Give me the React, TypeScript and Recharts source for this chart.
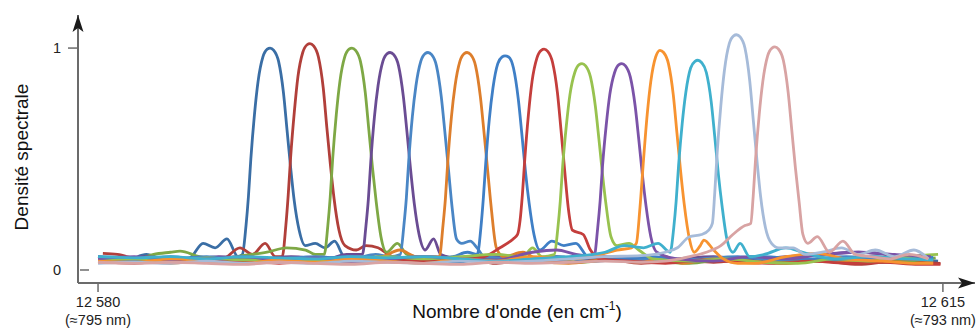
import { Line, LineChart, ReferenceDot, XAxis, YAxis } from "recharts";

// spectral density, [wavenumber (cm-1), value]
const s1 = [[12580.0,0.05],[12581.2,0.045],[12582.0,0.07],[12582.8,0.045],[12583.8,0.055],[12584.35,0.12],[12584.85,0.10],[12585.34,0.14],[12585.8,0.06],[12585.98,0.07],[12586.13,0.2],[12586.23,0.33],[12586.33,0.5],[12586.48,0.7],[12586.63,0.85],[12586.83,0.96],[12587.01,0.995],[12587.13,1.0],[12587.28,0.99],[12587.48,0.94],[12587.68,0.8],[12587.83,0.63],[12587.98,0.46],[12588.13,0.31],[12588.33,0.18],[12588.58,0.11],[12589.0,0.12],[12589.4,0.10],[12589.8,0.13],[12590.2,0.06],[12591.5,0.04],[12593.0,0.05],[12594.5,0.03],[12596.0,0.05],[12597.5,0.04],[12599.0,0.06],[12600.5,0.04],[12602.0,0.05],[12603.5,0.035],[12605.0,0.05],[12606.5,0.04],[12608.0,0.055],[12609.5,0.04],[12611.0,0.05],[12612.5,0.035],[12614.0,0.045],[12614.8,0.04]];
const s2 = [[12580.2,0.075],[12580.8,0.07],[12581.6,0.05],[12582.6,0.04],[12583.6,0.05],[12584.6,0.04],[12585.2,0.05],[12585.88,0.10],[12586.4,0.07],[12586.92,0.12],[12587.35,0.06],[12587.63,0.06],[12587.78,0.2],[12587.88,0.34],[12587.98,0.51],[12588.13,0.71],[12588.28,0.87],[12588.48,0.98],[12588.66,1.015],[12588.78,1.02],[12588.93,1.01],[12589.13,0.96],[12589.33,0.82],[12589.48,0.64],[12589.63,0.47],[12589.78,0.32],[12589.98,0.18],[12590.23,0.11],[12590.7,0.09],[12591.1,0.11],[12591.6,0.10],[12592.2,0.06],[12593.5,0.04],[12595.0,0.055],[12596.5,0.03],[12598.0,0.05],[12599.5,0.035],[12601.0,0.05],[12602.5,0.03],[12604.0,0.045],[12605.5,0.035],[12607.0,0.05],[12608.5,0.03],[12610.0,0.04],[12611.5,0.025],[12613.0,0.04],[12614.9,0.03]];
const s3 = [[12580.0,0.04],[12581.5,0.045],[12582.3,0.07],[12583.0,0.08],[12583.4,0.085],[12584.2,0.06],[12585.0,0.05],[12586.0,0.065],[12587.0,0.08],[12587.8,0.10],[12588.6,0.09],[12589.0,0.07],[12589.37,0.07],[12589.52,0.2],[12589.62,0.33],[12589.72,0.5],[12589.87,0.7],[12590.02,0.85],[12590.22,0.96],[12590.40,0.995],[12590.52,1.0],[12590.67,0.99],[12590.87,0.94],[12591.07,0.8],[12591.22,0.63],[12591.37,0.46],[12591.52,0.31],[12591.72,0.15],[12591.95,0.08],[12592.4,0.12],[12592.8,0.07],[12594.0,0.05],[12595.5,0.06],[12597.0,0.04],[12598.5,0.055],[12600.0,0.035],[12601.5,0.05],[12603.0,0.04],[12604.5,0.03],[12606.0,0.05],[12607.5,0.035],[12609.0,0.045],[12610.5,0.05],[12612.0,0.035],[12613.5,0.04],[12614.7,0.055]];
const s4 = [[12580.0,0.06],[12581.0,0.05],[12582.0,0.06],[12583.5,0.04],[12585.0,0.06],[12586.5,0.05],[12588.0,0.06],[12589.5,0.05],[12590.3,0.07],[12590.95,0.07],[12591.10,0.2],[12591.20,0.32],[12591.30,0.49],[12591.45,0.69],[12591.60,0.83],[12591.80,0.94],[12591.98,0.975],[12592.10,0.98],[12592.25,0.97],[12592.45,0.92],[12592.65,0.78],[12592.80,0.62],[12592.95,0.45],[12593.10,0.30],[12593.30,0.16],[12593.55,0.09],[12593.9,0.14],[12594.2,0.07],[12595.0,0.05],[12596.5,0.06],[12598.0,0.04],[12599.5,0.05],[12601.0,0.06],[12602.5,0.04],[12604.0,0.05],[12605.5,0.06],[12607.0,0.045],[12608.5,0.06],[12610.0,0.07],[12611.5,0.08],[12613.0,0.065],[12614.5,0.05]];
const s5 = [[12580.0,0.06],[12581.5,0.055],[12583.0,0.05],[12584.5,0.06],[12586.0,0.045],[12587.5,0.05],[12589.0,0.06],[12590.5,0.05],[12591.5,0.07],[12592.1,0.06],[12592.52,0.07],[12592.67,0.2],[12592.77,0.32],[12592.87,0.49],[12593.02,0.69],[12593.17,0.83],[12593.37,0.94],[12593.55,0.975],[12593.67,0.98],[12593.82,0.97],[12594.02,0.92],[12594.22,0.78],[12594.37,0.62],[12594.52,0.45],[12594.67,0.28],[12594.85,0.14],[12595.07,0.12],[12595.42,0.13],[12595.7,0.10],[12596.0,0.06],[12597.5,0.05],[12599.0,0.06],[12600.5,0.04],[12602.0,0.055],[12603.5,0.04],[12605.0,0.05],[12606.5,0.06],[12608.0,0.045],[12609.5,0.05],[12611.0,0.06],[12612.5,0.05],[12614.6,0.06]];
const s6 = [[12580.0,0.035],[12581.5,0.04],[12583.0,0.03],[12584.5,0.045],[12586.0,0.035],[12587.5,0.05],[12589.0,0.04],[12590.5,0.03],[12591.8,0.06],[12592.5,0.09],[12593.2,0.06],[12594.14,0.06],[12594.29,0.2],[12594.39,0.32],[12594.49,0.49],[12594.64,0.69],[12594.79,0.83],[12594.99,0.94],[12595.17,0.975],[12595.29,0.98],[12595.44,0.97],[12595.64,0.92],[12595.84,0.78],[12595.99,0.62],[12596.14,0.45],[12596.29,0.28],[12596.5,0.10],[12596.8,0.06],[12597.6,0.08],[12598.3,0.04],[12599.5,0.03],[12601.0,0.045],[12602.5,0.035],[12603.5,0.06],[12604.2,0.03],[12605.5,0.05],[12607.0,0.04],[12608.5,0.03],[12610.0,0.045],[12611.5,0.035],[12613.0,0.05],[12614.6,0.04]];
const s7 = [[12580.0,0.05],[12581.5,0.04],[12583.0,0.06],[12584.5,0.045],[12586.0,0.05],[12587.5,0.04],[12589.0,0.05],[12590.5,0.06],[12592.0,0.045],[12593.5,0.05],[12594.7,0.06],[12595.3,0.08],[12595.71,0.07],[12595.86,0.19],[12595.96,0.32],[12596.06,0.48],[12596.21,0.68],[12596.36,0.82],[12596.56,0.93],[12596.74,0.96],[12596.86,0.965],[12597.01,0.96],[12597.21,0.91],[12597.41,0.77],[12597.56,0.61],[12597.71,0.44],[12597.86,0.30],[12598.06,0.16],[12598.3,0.09],[12598.8,0.13],[12599.3,0.11],[12599.8,0.12],[12600.3,0.06],[12601.5,0.05],[12603.0,0.06],[12604.5,0.04],[12606.0,0.05],[12607.5,0.06],[12609.0,0.05],[12610.5,0.045],[12612.0,0.06],[12613.5,0.05],[12614.6,0.055]];
const s8 = [[12580.0,0.04],[12581.5,0.03],[12583.0,0.045],[12584.5,0.035],[12586.0,0.04],[12587.5,0.03],[12589.0,0.04],[12590.5,0.035],[12592.0,0.05],[12593.5,0.04],[12595.0,0.045],[12596.0,0.06],[12596.65,0.10],[12597.2,0.14],[12597.38,0.16],[12597.48,0.22],[12597.58,0.34],[12597.68,0.5],[12597.83,0.7],[12597.98,0.85],[12598.18,0.955],[12598.36,0.99],[12598.48,0.995],[12598.63,0.985],[12598.83,0.935],[12599.03,0.8],[12599.18,0.63],[12599.33,0.45],[12599.48,0.28],[12599.65,0.18],[12600.1,0.16],[12600.4,0.09],[12600.8,0.05],[12602.0,0.04],[12603.5,0.03],[12605.0,0.045],[12606.5,0.035],[12608.0,0.03],[12609.5,0.04],[12611.0,0.03],[12612.5,0.035],[12614.0,0.025],[12614.9,0.025]];
const s9 = [[12580.0,0.045],[12581.5,0.05],[12583.0,0.04],[12584.5,0.055],[12586.0,0.045],[12587.5,0.05],[12589.0,0.04],[12590.5,0.05],[12592.0,0.06],[12593.5,0.05],[12595.0,0.06],[12596.5,0.07],[12597.6,0.06],[12598.0,0.10],[12598.4,0.06],[12598.9,0.07],[12599.05,0.19],[12599.15,0.31],[12599.25,0.47],[12599.40,0.65],[12599.55,0.79],[12599.75,0.89],[12599.93,0.925],[12600.05,0.93],[12600.2,0.92],[12600.4,0.87],[12600.6,0.74],[12600.75,0.59],[12600.9,0.43],[12601.05,0.29],[12601.25,0.15],[12601.5,0.11],[12602.0,0.12],[12602.4,0.09],[12603.0,0.05],[12604.5,0.04],[12606.0,0.05],[12607.5,0.035],[12609.0,0.03],[12610.5,0.05],[12612.0,0.04],[12613.5,0.06],[12614.8,0.07]];
const s10 = [[12580.0,0.05],[12581.5,0.06],[12583.0,0.045],[12584.5,0.05],[12586.0,0.06],[12587.5,0.045],[12589.0,0.055],[12590.5,0.04],[12592.0,0.05],[12593.5,0.06],[12595.0,0.05],[12596.5,0.045],[12598.0,0.08],[12599.0,0.09],[12599.8,0.07],[12600.55,0.06],[12600.7,0.19],[12600.8,0.31],[12600.9,0.47],[12601.05,0.65],[12601.2,0.79],[12601.4,0.89],[12601.58,0.925],[12601.7,0.93],[12601.85,0.92],[12602.05,0.87],[12602.25,0.74],[12602.4,0.59],[12602.55,0.43],[12602.7,0.29],[12602.9,0.15],[12603.15,0.08],[12604.0,0.05],[12605.5,0.04],[12607.0,0.06],[12608.5,0.05],[12610.0,0.07],[12611.5,0.08],[12613.0,0.07],[12614.5,0.06]];
const s11 = [[12580.0,0.04],[12581.5,0.035],[12583.0,0.05],[12584.5,0.04],[12586.0,0.03],[12587.5,0.045],[12589.0,0.035],[12590.5,0.05],[12592.0,0.04],[12593.5,0.03],[12595.0,0.05],[12596.5,0.04],[12598.0,0.06],[12599.5,0.05],[12600.5,0.06],[12601.5,0.09],[12602.1,0.10],[12602.3,0.12],[12602.45,0.28],[12602.6,0.5],[12602.75,0.7],[12602.9,0.85],[12603.1,0.96],[12603.28,0.99],[12603.43,0.98],[12603.63,0.93],[12603.83,0.79],[12603.98,0.62],[12604.13,0.45],[12604.28,0.30],[12604.5,0.14],[12604.7,0.08],[12604.95,0.11],[12605.1,0.135],[12605.5,0.09],[12605.9,0.05],[12606.5,0.03],[12607.2,0.03],[12608.5,0.06],[12609.8,0.075],[12611.0,0.05],[12612.5,0.04],[12614.0,0.03],[12614.6,0.03]];
const s12 = [[12580.0,0.06],[12581.5,0.055],[12583.0,0.06],[12584.5,0.05],[12586.0,0.06],[12587.5,0.055],[12589.0,0.05],[12590.5,0.06],[12592.0,0.055],[12593.5,0.06],[12595.0,0.05],[12596.5,0.04],[12598.0,0.05],[12599.5,0.06],[12601.0,0.08],[12601.8,0.11],[12602.6,0.10],[12603.2,0.12],[12603.7,0.08],[12603.85,0.19],[12603.95,0.31],[12604.05,0.47],[12604.2,0.66],[12604.35,0.8],[12604.55,0.91],[12604.73,0.94],[12604.85,0.945],[12605.0,0.935],[12605.2,0.89],[12605.4,0.76],[12605.55,0.6],[12605.7,0.43],[12605.85,0.29],[12606.05,0.14],[12606.3,0.08],[12606.6,0.12],[12607.0,0.06],[12607.6,0.07],[12608.5,0.10],[12609.2,0.08],[12610.5,0.05],[12612.0,0.06],[12613.5,0.05],[12614.6,0.045]];
const s13 = [[12580.0,0.03],[12581.5,0.035],[12583.0,0.03],[12584.5,0.04],[12586.0,0.03],[12587.5,0.035],[12589.0,0.03],[12590.5,0.04],[12592.0,0.035],[12593.5,0.03],[12595.0,0.04],[12596.5,0.035],[12598.0,0.04],[12599.5,0.05],[12601.0,0.06],[12602.5,0.065],[12603.5,0.08],[12604.0,0.10],[12604.5,0.15],[12605.0,0.16],[12605.3,0.18],[12605.45,0.21],[12605.55,0.35],[12605.65,0.53],[12605.8,0.74],[12605.95,0.9],[12606.15,1.02],[12606.33,1.055],[12606.45,1.06],[12606.6,1.05],[12606.8,1.0],[12607.0,0.85],[12607.15,0.67],[12607.3,0.49],[12607.45,0.33],[12607.65,0.19],[12607.9,0.12],[12608.2,0.10],[12608.8,0.10],[12609.3,0.07],[12610.0,0.08],[12610.8,0.10],[12611.5,0.07],[12612.2,0.09],[12613.0,0.06],[12613.8,0.09],[12614.4,0.05]];
const s14 = [[12580.0,0.035],[12581.5,0.03],[12583.0,0.035],[12584.5,0.03],[12586.0,0.025],[12587.5,0.035],[12589.0,0.03],[12590.5,0.025],[12592.0,0.035],[12593.5,0.03],[12595.0,0.025],[12596.5,0.035],[12598.0,0.03],[12599.5,0.035],[12601.0,0.04],[12602.5,0.035],[12603.5,0.04],[12604.5,0.06],[12605.2,0.08],[12605.8,0.11],[12606.3,0.16],[12606.8,0.20],[12607.04,0.21],[12607.14,0.33],[12607.24,0.5],[12607.39,0.7],[12607.54,0.85],[12607.74,0.965],[12607.92,1.0],[12608.04,1.005],[12608.19,0.995],[12608.39,0.945],[12608.59,0.8],[12608.74,0.63],[12608.89,0.46],[12609.04,0.31],[12609.2,0.16],[12609.4,0.12],[12609.8,0.15],[12610.3,0.08],[12610.86,0.13],[12611.36,0.07],[12612.0,0.06],[12612.8,0.05],[12613.6,0.07],[12614.4,0.05]];

const allSeries = [s1, s2, s3, s4, s5, s6, s7, s8, s9, s10, s11, s12, s13, s14];
const colors = [
  "#3a6ea5", "#b13f3a", "#7ea845", "#6a4c93", "#4a86c5", "#dd7e2c", "#3f7fc6",
  "#c43e3c", "#98c24f", "#7b53a8", "#f79330", "#3fb0cd", "#a6bbd9", "#d8a3a3",
];

const xTicks = [12580, 12615];
const xTickLabels = ["12 580", "12 615"];
const xTickNm = ["(≈795 nm)", "(≈793 nm)"];
const yTicks = [0, 1];

const X_MIN = 12579.17;
const X_MAX = 12616.33;
const Y_MIN = -0.0586;
const Y_MAX = 1.149;

const FONT = "'Liberation Sans', Arial, sans-serif";
const AXIS = "#6b6b6b";

function XTick({ x, y, payload }: any) {
  const i = xTicks.indexOf(payload.value);
  return (
    <g fontFamily={FONT} fontSize={14.5} fill="#222">
      <text x={x} y={y + 13} textAnchor="middle" fill="#222">{xTickLabels[i]}</text>
      <text x={x} y={y + 31} textAnchor="middle" fill="#222">{xTickNm[i]}</text>
    </g>
  );
}

function YTick({ x, y, payload }: any) {
  const top = payload.value === 1;
  return (
    <g>
      <line x1={top ? x - 10 : x + 2} x2={top ? x - 1 : x + 11} y1={y} y2={y} stroke={AXIS} strokeWidth={1.5} />
      <text x={x - 21} y={y} dy="0.35em" textAnchor="middle" fontFamily={FONT} fontSize={14.5} fill="#222">
        {payload.value}
      </text>
    </g>
  );
}

const arrowRight = ({ cx, cy }: any) => (
  <path d={`M${cx},${cy} L${cx - 17},${cy - 5.5} L${cx - 13},${cy} L${cx - 17},${cy + 5.5} Z`} fill="#1a1a1a" />
);
const arrowUp = ({ cx, cy }: any) => (
  <path d={`M${cx},${cy} L${cx - 5.5},${cy + 17} L${cx},${cy + 13} L${cx + 5.5},${cy + 17} Z`} fill="#1a1a1a" />
);

export default function App() {
  return (
    <div style={{ position: "absolute", left: 0, top: 0, width: 979, height: 329, background: "#fff" }}>
      <LineChart width={979} height={329} margin={{ top: 15, right: 4, bottom: 0, left: 0 }}>
        <XAxis
          type="number"
          dataKey="x"
          domain={[X_MIN, X_MAX]}
          ticks={xTicks}
          allowDataOverflow
          height={46}
          tickSize={9}
          tickLine={{ stroke: AXIS, strokeWidth: 1.5 }}
          axisLine={{ stroke: AXIS, strokeWidth: 2 }}
          tick={<XTick />}
          label={{
            content: () => (
              <text x={517} y={318} textAnchor="middle" fontFamily={FONT} fontSize={19} fill="#111">
                Nombre d'onde (en cm
                <tspan dy={-8} fontSize={12}>-1</tspan>
                <tspan dy={8}>)</tspan>
              </text>
            ),
          }}
        />
        <YAxis
          type="number"
          domain={[Y_MIN, Y_MAX]}
          ticks={yTicks}
          allowDataOverflow
          width={78}
          tickSize={0}
          tickMargin={0}
          tickLine={false}
          axisLine={{ stroke: AXIS, strokeWidth: 2 }}
          tick={<YTick />}
          label={{
            content: () => (
              <text x={21} y={157} transform="rotate(-90 21 157)" textAnchor="middle" dominantBaseline="central" fontFamily={FONT} fontSize={19} fill="#111">
                Densité spectrale
              </text>
            ),
          }}
        />
        {allSeries.map((s, i) => (
          <Line
            key={i}
            data={s.map(([x, y]) => ({ x, y }))}
            dataKey="y"
            type="monotone"
            stroke={colors[i]}
            strokeWidth={2.8}
            dot={false}
            activeDot={false}
            isAnimationActive={false}
          />
        ))}
        <ReferenceDot x={X_MAX} y={Y_MIN} r={0} ifOverflow="visible" shape={arrowRight} />
        <ReferenceDot x={X_MIN} y={Y_MAX} r={0} ifOverflow="visible" shape={arrowUp} />
      </LineChart>
    </div>
  );
}
